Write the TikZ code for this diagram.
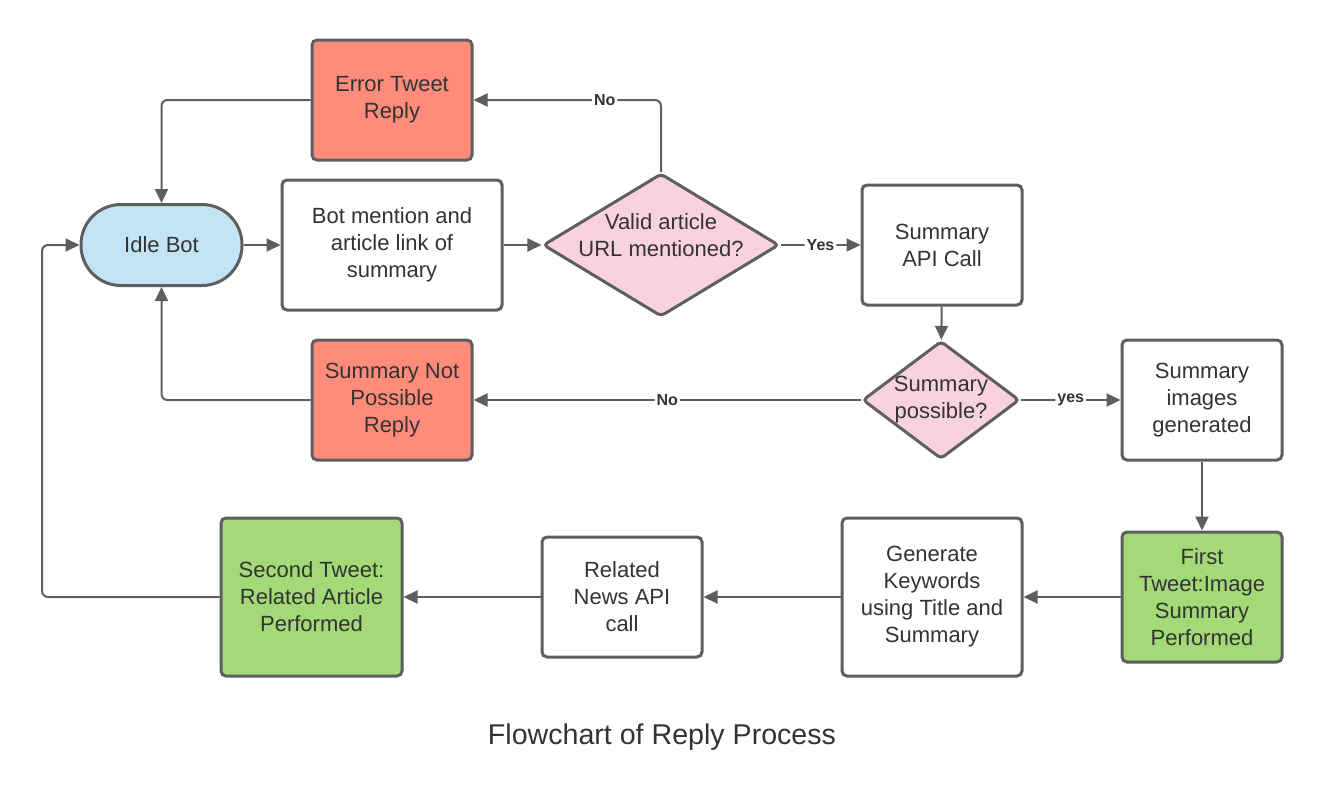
\documentclass[tikz,border=0pt]{standalone}
\usepackage{fontspec}
\setmainfont{Liberation Sans}
\usetikzlibrary{shapes, arrows.meta}
\definecolor{edge}{HTML}{5E5E5E}
\definecolor{txt}{HTML}{333333}
\definecolor{salmon}{HTML}{FF8C7B}
\definecolor{sky}{HTML}{C3E4F5}
\definecolor{rose}{HTML}{F9D2DE}
\definecolor{leaf}{HTML}{A3D977}
\tikzstyle{boxes} = [rectangle, rounded corners=2.5pt, minimum width=80pt, minimum height=60pt,
align=center, draw=edge, line width=1.5pt, fill=white, text=txt]
\tikzstyle{terminal} = [boxes, rounded corners=20pt, minimum width=80.5pt, minimum height=40.5pt, fill=sky]
\tikzstyle{decision} = [diamond, rounded corners=2pt, inner sep=0pt, draw=edge, line width=1.5pt,
fill=rose, text=txt]
\tikzstyle{lbl} = [fill=white, inner sep=1pt, text=txt, font=\bfseries\fontsize{8}{9}\selectfont]
\tikzstyle{arrow} = [line width=1pt, draw=edge, rounded corners=3pt, -{Triangle[length=7pt, width=6.5pt]}]

\begin{document}
\begin{tikzpicture}[x=0.5pt, y=-0.5pt, font=\fontsize{11}{13.5}\selectfont]
    \useasboundingbox (0,0) rectangle (1322,787);

    \node (idle) [terminal] at (161.5,245) {Idle Bot};
    \node (error) [boxes, fill=salmon] at (392,100) {Error Tweet\\Reply};
    \node (mention) [boxes, minimum width=110pt, minimum height=65pt] at (392,245) {Bot mention and\\article link of\\summary};
    \node (valid) [decision, minimum width=118pt, minimum height=71.5pt,
    label={[align=center, text=txt, yshift=5pt]center:Valid article\\URL mentioned?}] at (661,245) {};
    \node (api) [boxes] at (942,245) {Summary\\API Call};
    \node (possible) [decision, minimum width=78.5pt, minimum height=59pt,
    label={[align=center, text=txt]center:Summary\\possible?}] at (941,400) {};
    \node (notposs) [boxes, fill=salmon] at (392,400) {Summary Not\\Possible\\Reply};
    \node (images) [boxes] at (1202,400) {Summary\\images\\generated};
    \node (first) [boxes, minimum height=65pt, fill=leaf] at (1202,597) {First\\Tweet:Image\\Summary\\Performed};
    \node (keywords) [boxes, minimum width=90pt, minimum height=79pt] at (932,597) {Generate\\Keywords\\using Title and\\Summary};
    \node (news) [boxes] at (622,597) {Related\\News API\\call};
    \node (second) [boxes, minimum width=90.5pt, minimum height=79pt, fill=leaf] at (311.5,597) {Second Tweet:\\Related Article\\Performed};
    \coordinate (back) at (42,245);

    \node (caption) [text=txt, font=\fontsize{14.3}{17}\selectfont] at (662,737) {Flowchart of Reply Process};

    \draw[arrow] (idle) -- (mention);
    \draw[arrow] (mention) -- (valid);
    \draw[arrow] (valid.north) |- node[lbl, pos=0.65] {No} (error.east);
    \draw[arrow] (error.west) -| (idle.north);
    \draw[arrow] (valid.east) -- node[lbl] {Yes} (api.west);
    \draw[arrow] (api) -- (possible);
    \draw[arrow] (possible.west) -- node[lbl] {No} (notposs.east);
    \draw[arrow] (possible.east) -- node[lbl] {yes} (images.west);
    \draw[arrow] (notposs.west) -| (idle.south);
    \draw[arrow] (images) -- (first);
    \draw[arrow] (first) -- (keywords);
    \draw[arrow] (keywords) -- (news);
    \draw[arrow] (news) -- (second);
    \draw[arrow] (second.west) -| (back) -- (idle.west);

\end{tikzpicture}
\end{document}
